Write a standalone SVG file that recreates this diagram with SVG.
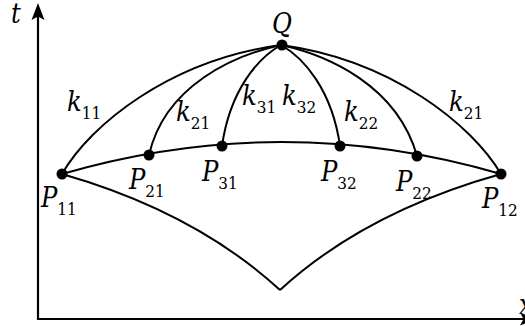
<svg xmlns="http://www.w3.org/2000/svg" width="525" height="326" viewBox="0 0 525 326">
<style>
.ax{fill:none;stroke:#000;stroke-width:2.2}
.c{fill:none;stroke:#000;stroke-width:2}
.ah{fill:#000;stroke:none}
.dot{fill:#000}
.m{font-size:27px;fill:#000}
.s{font-style:normal;font-size:17px}
</style>
<rect width="525" height="326" fill="#fff"/>
<g id="axes">
<line class="ax" x1="38" y1="320" x2="38" y2="12"/>
<path class="ah" d="M38,3 L44.5,20 L38,16.5 L31.5,20 Z"/>
<line class="ax" x1="37" y1="319" x2="528" y2="319"/>
<path class="ah" d="M537,319 L520,325.5 L523.5,319 L520,312.5 Z"/>
</g>
<g font-family="'DejaVu Serif', serif" font-style="italic" font-stretch="condensed">
<g id="axis-labels">
<text class="m" x="11" y="23">t</text>
<text class="m" x="519" y="314">x</text>
</g>
<g id="connectors">
<path class="c" d="M62,174 Q281.5,110 501,174"/>
<path class="c" d="M281,45 C170,60 90,125 62,174"/>
<path class="c" d="M281,45 C392,60 472,125 501,174"/>
<path class="c" d="M281,45 C235,55 165,85 149,155"/>
<path class="c" d="M281,45 C327,55 397,85 417,156"/>
<path class="c" d="M281,45 C258,58 230,90 222,146"/>
<path class="c" d="M281,45 C304,58 332,90 340,146"/>
<path class="c" d="M62,174 Q195,212 280,290"/>
<path class="c" d="M501,174 Q365,212 280,290"/>
</g>
<g id="edge-labels">
<text class="m" x="67" y="111">k<tspan class="s" dy="8">11</tspan></text>
<text class="m" x="176" y="121">k<tspan class="s" dy="8">21</tspan></text>
<text class="m" x="242" y="105">k<tspan class="s" dy="8">31</tspan></text>
<text class="m" x="282" y="105">k<tspan class="s" dy="8">32</tspan></text>
<text class="m" x="344" y="121">k<tspan class="s" dy="8">22</tspan></text>
<text class="m" x="449" y="111">k<tspan class="s" dy="8">21</tspan></text>
</g>
<g id="Q">
<circle class="dot" cx="282" cy="45" r="5.5"/>
<text class="m" x="282" y="33" text-anchor="middle">Q</text>
</g>
<g id="P11">
<circle class="dot" cx="62" cy="174" r="5.5"/>
<text class="m" x="41" y="206.5">P<tspan class="s" dy="8">11</tspan></text>
</g>
<g id="P21">
<circle class="dot" cx="149" cy="155" r="5.5"/>
<text class="m" x="129" y="189">P<tspan class="s" dy="8">21</tspan></text>
</g>
<g id="P31">
<circle class="dot" cx="222" cy="146" r="5.5"/>
<text class="m" x="202" y="180.5">P<tspan class="s" dy="8">31</tspan></text>
</g>
<g id="P32">
<circle class="dot" cx="340" cy="146" r="5.5"/>
<text class="m" x="321" y="180.5">P<tspan class="s" dy="8">32</tspan></text>
</g>
<g id="P22">
<circle class="dot" cx="417" cy="156" r="5.5"/>
<text class="m" x="396" y="190.5">P<tspan class="s" dy="8">22</tspan></text>
</g>
<g id="P12">
<circle class="dot" cx="501" cy="174" r="5.5"/>
<text class="m" x="482" y="208">P<tspan class="s" dy="8">12</tspan></text>
</g>
</g>
</svg>
